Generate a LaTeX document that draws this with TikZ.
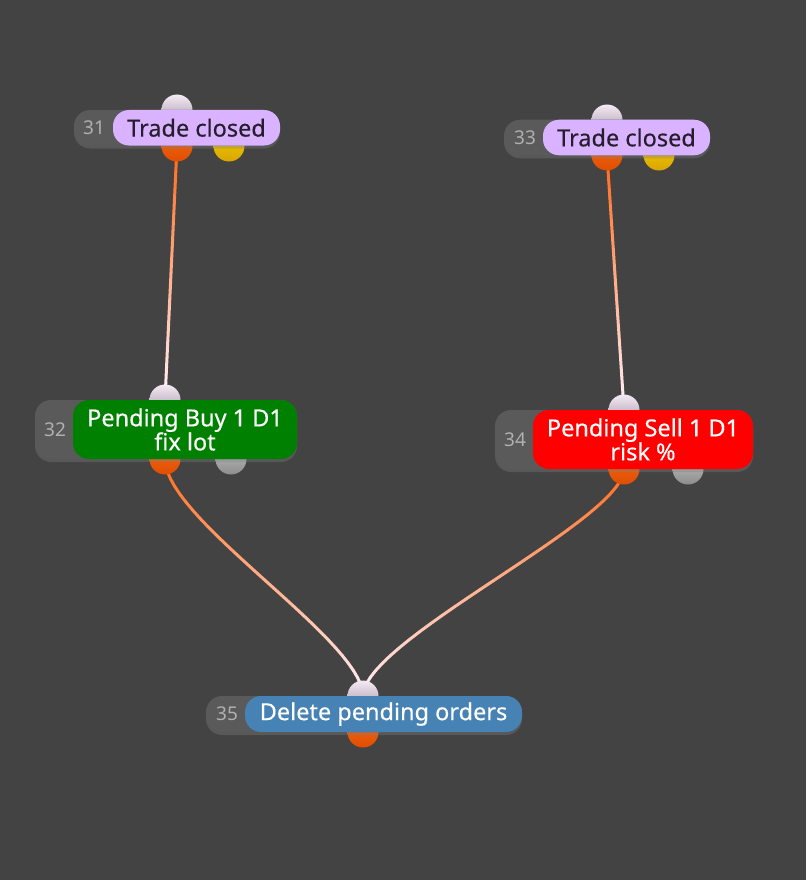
\documentclass[tikz,border=0pt]{standalone}
\usepackage{fontspec}
\setmainfont{Noto Sans}
\newfontfamily\pillfont[FakeBold=0.35]{Noto Sans}
\usetikzlibrary{shadows,calc}
\definecolor{bg}{HTML}{434343}
\definecolor{pillgray}{HTML}{5A5A5A}
\definecolor{numgray}{HTML}{B0B0B0}
\definecolor{lavender}{HTML}{D9B3FF}
\definecolor{darktext}{HTML}{261E2C}
\definecolor{pgreen}{HTML}{008000}
\definecolor{pred}{HTML}{FF0000}
\definecolor{pblue}{HTML}{4682B4}
\definecolor{orTop}{HTML}{F56A1A}
\definecolor{orBot}{HTML}{E04E00}
\definecolor{inTop}{HTML}{F4EAF4}
\definecolor{inBot}{HTML}{A393A6}
\definecolor{yeTop}{HTML}{F7D000}
\definecolor{yeBot}{HTML}{D9A500}
\definecolor{grTop}{HTML}{C8C8C8}
\definecolor{grBot}{HTML}{8C8C8C}
\definecolor{cOrange}{HTML}{FF6410}
\definecolor{cWhite}{HTML}{FFF0F8}
\tikzset{
  graypill/.style={fill=pillgray, rounded corners=16pt, inner sep=0pt,
    drop shadow={shadow xshift=0pt, shadow yshift=-3pt, opacity=0.35}},
  colpill/.style={rounded corners=16pt, inner sep=0pt, align=center,
    font=\pillfont\fontsize{23.5}{24}\selectfont},
  numtext/.style={text=numgray, font=\fontsize{19}{20}\selectfont, inner sep=0pt},
  port/.style={circle, minimum size=31pt, inner sep=0pt},
  inport/.style={port, top color=inTop, bottom color=inBot},
  outport/.style={port, top color=orTop, bottom color=orBot},
  yeport/.style={port, top color=yeTop, bottom color=yeBot},
  grport/.style={port, top color=grTop, bottom color=grBot},
  conn/.style={line width=3pt, line cap=round}
}
\newcommand\gradpath[1]{%
  \path #1 \foreach \k in {0,...,30}{ coordinate[pos=\k/30] (gp\k)};
  \foreach \k in {1,...,30}{%
    \pgfmathtruncatemacro\km{\k-1}%
    \pgfmathtruncatemacro\pc{100-\k*100/30}%
    \draw[conn, color=cOrange!\pc!cWhite] (gp\km) -- (gp\k);}%
}
\begin{document}
\begin{tikzpicture}[x=1pt,y=-1pt]
\fill[bg] (0,0) rectangle (806,880);
\useasboundingbox (0,0) rectangle (806,880);

% port coordinates
\coordinate (i31) at (177,110);
\coordinate (o31) at (177,146);
\coordinate (y31) at (229,146);
\coordinate (i33) at (607,120);
\coordinate (o33) at (607,155);
\coordinate (y33) at (659,155);
\coordinate (i32) at (165,400);
\coordinate (o32) at (165,459);
\coordinate (g32) at (231,459);
\coordinate (i34) at (624,410);
\coordinate (o34) at (624,469);
\coordinate (g34) at (688,469);
\coordinate (i35) at (363,696);
\coordinate (o35) at (363,732);

% connectors
\gradpath{(o31) .. controls ($(o31)!0.33!(i32)$) and ($(o31)!0.67!(i32)$) .. (i32)}
\gradpath{(o33) .. controls ($(o33)!0.33!(i34)$) and ($(o33)!0.67!(i34)$) .. (i34)}
\gradpath{(o32) .. controls (165,520) and (363,640) .. (i35)}
\gradpath{(o34) .. controls (624,520) and (363,640) .. (i35)}

% ports
\node[inport] (pi31) at (i31) {};
\node[outport] (po31) at (o31) {};
\node[yeport] (py31) at (y31) {};
\node[inport] (pi33) at (i33) {};
\node[outport] (po33) at (o33) {};
\node[yeport] (py33) at (y33) {};
\node[inport] (pi32) at (i32) {};
\node[outport] (po32) at (o32) {};
\node[grport] (pg32) at (g32) {};
\node[inport] (pi34) at (i34) {};
\node[outport] (po34) at (o34) {};
\node[grport] (pg34) at (g34) {};
\node[inport] (pi35) at (i35) {};
\node[outport] (po35) at (o35) {};

% node 31
\node[graypill, minimum width=206pt, minimum height=35.5pt] (n31) at (177,127.75) {};
\node[colpill, fill=lavender, text=darktext, minimum width=167pt, minimum height=35.5pt] (t31) at (196.5,127.75) {Trade closed};
\node[numtext] (k31) at (94,128) {31};
% node 33
\node[graypill, minimum width=206pt, minimum height=35.5pt] (n33) at (607,137.5) {};
\node[colpill, fill=lavender, text=darktext, minimum width=167pt, minimum height=35.5pt] (t33) at (626.5,137.5) {Trade closed};
\node[numtext] (k33) at (525,138) {33};
% node 32
\node[graypill, minimum width=262pt, minimum height=59pt] (n32) at (166,429.5) {};
\node[colpill, fill=pgreen, text=white, minimum width=224pt, minimum height=59pt] (t32) at (185,429.5) {Pending Buy 1 D1\\fix lot};
\node[numtext] (k32) at (55,430) {32};
% node 34
\node[graypill, minimum width=258pt, minimum height=59pt] (n34) at (624,439.5) {};
\node[colpill, fill=pred, text=white, minimum width=220pt, minimum height=59pt] (t34) at (643,439.5) {Pending Sell 1 D1\\risk \%};
\node[numtext] (k34) at (515,440) {34};
% node 35
\node[graypill, minimum width=316pt, minimum height=36pt] (n35) at (364,714) {};
\node[colpill, fill=pblue, text=white, minimum width=277pt, minimum height=36pt] (t35) at (383.5,714) {Delete pending orders};
\node[numtext] (k35) at (227,714) {35};
\end{tikzpicture}
\end{document}
